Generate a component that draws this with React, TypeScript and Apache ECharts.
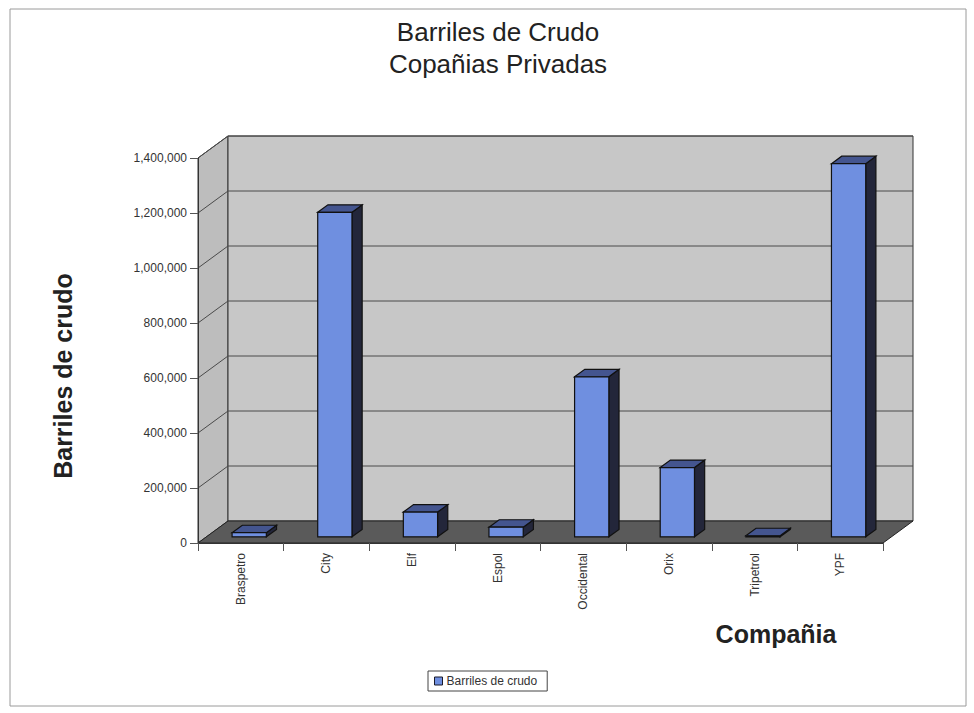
import React, { useEffect, useRef } from "react";
import * as echarts from "echarts";

const companies = ["Braspetro", "City", "Elf", "Espol", "Occidental", "Orix", "Tripetrol", "YPF"];
const barrels = [15000, 1180000, 90000, 35000, 582000, 252000, 4000, 1357000];
const yTicks = [0, 200000, 400000, 600000, 800000, 1000000, 1200000, 1400000];
const seriesName = "Barriles de crudo";

const DX = 30;
const DY = -22;
const D0 = 0.28;
const D1 = 0.62;

export default function App() {
  const ref = useRef<HTMLDivElement>(null);
  useEffect(() => {
    if (!ref.current) return;
    const chart = echarts.init(ref.current, null, { renderer: "svg" });
    const font = "Liberation Sans, Arial, sans-serif";
    chart.setOption({
      animation: false,
      backgroundColor: "#ffffff",
      textStyle: { fontFamily: font },
      grid: { left: 198, top: 158, right: 91, bottom: 170 },
      legend: {
        data: [seriesName],
        left: 428,
        top: 671,
        icon: "rect",
        itemWidth: 8,
        itemHeight: 8,
        itemGap: 4,
        itemStyle: { borderColor: "#1a1a2a", borderWidth: 1 },
        borderColor: "#444",
        borderWidth: 1,
        padding: [4, 10, 4, 6],
        textStyle: { fontSize: 12, color: "#333", fontFamily: font, padding: [0, 0, 0, -1] },
      },
      xAxis: {
        type: "category",
        data: companies,
        boundaryGap: true,
        axisLine: { show: true, lineStyle: { color: "#333", width: 1 } },
        axisTick: { show: true, length: 8, lineStyle: { color: "#555" } },
        axisLabel: { rotate: 90, fontSize: 12, color: "#333", margin: 10, fontFamily: font },
        splitLine: { show: false },
        z: 5,
      },
      yAxis: {
        type: "value",
        min: 0,
        max: 1400000,
        interval: 200000,
        axisLine: { show: true, lineStyle: { color: "#333", width: 1 } },
        axisTick: { show: true, length: 8, lineStyle: { color: "#555" } },
        axisLabel: {
          fontSize: 12,
          color: "#333",
          margin: 11,
          fontFamily: font,
          formatter: (v: number) => v.toLocaleString("en-US"),
        },
        splitLine: { show: false },
        z: 5,
      },
      graphic: [
        {
          type: "rect",
          shape: { x: 10, y: 9, width: 956, height: 697 },
          style: { fill: "none", stroke: "#9a9a9a", lineWidth: 1 },
          silent: true,
        },
        {
          type: "text",
          x: 498,
          y: 32,
          style: {
            text: "Barriles de Crudo",
            font: "26px " + font,
            fill: "#222",
            align: "center",
            verticalAlign: "middle",
          },
        },
        {
          type: "text",
          x: 498,
          y: 64,
          style: {
            text: "Copañias Privadas",
            font: "26px " + font,
            fill: "#222",
            align: "center",
            verticalAlign: "middle",
          },
        },
        {
          type: "text",
          x: 63,
          y: 376,
          rotation: Math.PI / 2,
          style: {
            text: "Barriles de crudo",
            font: "bold 25px " + font,
            fill: "#222",
            align: "center",
            verticalAlign: "middle",
          },
        },
        {
          type: "text",
          x: 776,
          y: 634,
          style: {
            text: "Compañia",
            font: "bold 25px " + font,
            fill: "#222",
            align: "center",
            verticalAlign: "middle",
          },
        },
      ],
      series: [
        {
          type: "custom",
          name: "walls",
          silent: true,
          z: 1,
          data: [[0]],
          renderItem: (params: any, api: any) => {
            const cs = params.coordSys;
            const x = cs.x;
            const y = cs.y;
            const w = cs.width;
            const h = cs.height;
            const children: any[] = [];
            children.push({
              type: "polygon",
              shape: { points: [[x, y], [x + DX, y + DY], [x + DX, y + h + DY], [x, y + h]] },
              style: { fill: "#bdbdbd", stroke: "#333", lineWidth: 1 },
            });
            children.push({
              type: "rect",
              shape: { x: x + DX, y: y + DY, width: w, height: h },
              style: { fill: "#c7c7c7", stroke: "#333", lineWidth: 1 },
            });
            yTicks.forEach((t) => {
              if (t === 0) return;
              const yy = api.coord([0, t])[1];
              children.push({
                type: "polyline",
                shape: { points: [[x, yy], [x + DX, yy + DY], [x + w + DX, yy + DY]] },
                style: { stroke: "#4a4a4a", lineWidth: 1, fill: "none" },
              });
            });
            children.push({
              type: "polygon",
              shape: {
                points: [[x, y + h], [x + DX, y + h + DY], [x + w + DX, y + h + DY], [x + w, y + h]],
              },
              style: { fill: "#5a5a5a", stroke: "#222", lineWidth: 1 },
            });
            return { type: "group", children };
          },
        },
        {
          type: "custom",
          name: seriesName,
          z: 3,
          itemStyle: { color: "#6f8fe0", borderColor: "#222" },
          data: companies.map((c, i) => [i, barrels[i]]),
          encode: { x: 0, y: 1 },
          renderItem: (params: any, api: any) => {
            const idx = api.value(0);
            const v = api.value(1);
            const base = api.coord([idx, 0]);
            const top = api.coord([idx, v]);
            const band = api.size([1, 0])[0];
            const bw = band * 0.4;
            const x0 = base[0] - bw / 2 + D0 * DX;
            const x1 = x0 + bw;
            const yb = base[1] + D0 * DY;
            const yt = top[1] + D0 * DY;
            const ddx = (D1 - D0) * DX;
            const ddy = (D1 - D0) * DY;
            const stroke = { stroke: "#111", lineWidth: 1.2 };
            return {
              type: "group",
              children: [
                {
                  type: "polygon",
                  shape: { points: [[x1, yt], [x1 + ddx, yt + ddy], [x1 + ddx, yb + ddy], [x1, yb]] },
                  style: { fill: "#23263a", ...stroke },
                },
                {
                  type: "polygon",
                  shape: { points: [[x0, yt], [x0 + ddx, yt + ddy], [x1 + ddx, yt + ddy], [x1, yt]] },
                  style: { fill: "#44558f", ...stroke },
                },
                {
                  type: "rect",
                  shape: { x: x0, y: yt, width: bw, height: yb - yt },
                  style: { fill: "#6f8fe0", ...stroke },
                },
              ],
            };
          },
        },
      ],
    });
    return () => chart.dispose();
  }, []);
  return (
    <div
      ref={ref}
      style={{ position: "fixed", left: 0, top: 0, width: 974, height: 713, background: "#fff" }}
    />
  );
}
